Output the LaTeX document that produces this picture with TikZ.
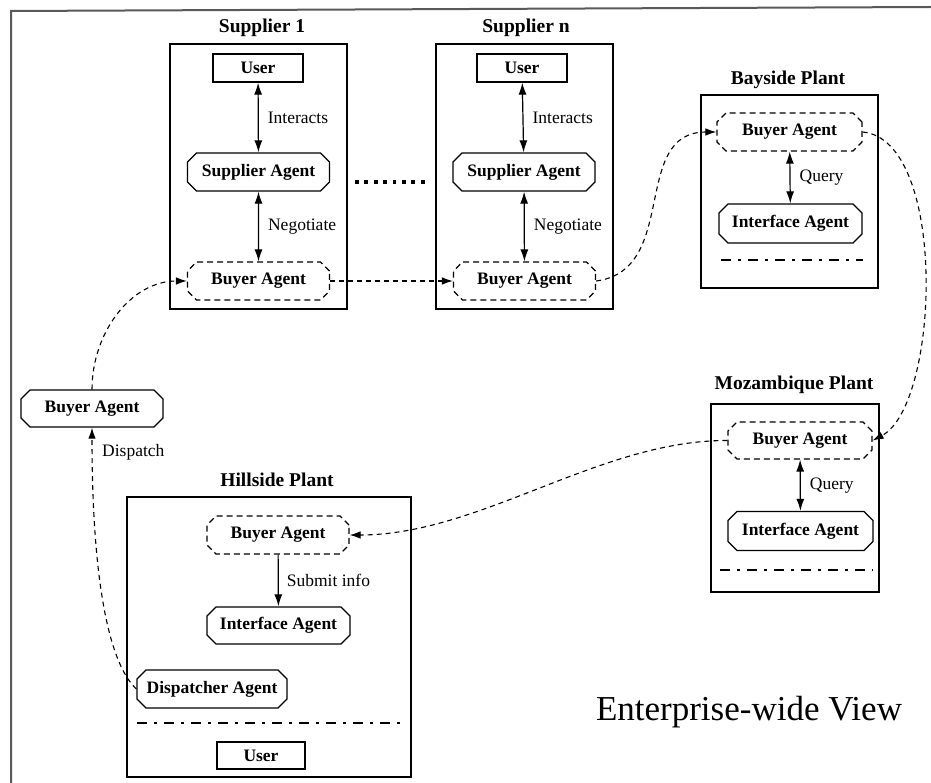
\documentclass[tikz,border=0pt]{standalone}
\usepackage{fontspec}
\setmainfont{Liberation Serif}
\usetikzlibrary{shapes.misc, arrows.meta}

\begin{document}
\begin{tikzpicture}[x=1pt, y=-1pt,
  agent/.style={chamfered rectangle, chamfered rectangle xsep=4pt, chamfered rectangle ysep=5pt,
    draw, line width=1.3pt, minimum width=142pt, minimum height=38pt, inner sep=1pt,
    font=\fontsize{17.5}{20}\selectfont\bfseries},
  buyer/.style={agent, line width=1.2pt, dash pattern=on 6pt off 4pt},
  userbox/.style={draw, rectangle, line width=1.3pt, minimum width=90pt, minimum height=28pt,
    inner sep=1pt, font=\fontsize{17.5}{20}\selectfont\bfseries},
  lbl/.style={anchor=west, inner sep=0pt, font=\fontsize{17.5}{20}\selectfont},
  title/.style={inner sep=0pt, font=\fontsize{19.5}{22}\selectfont\bfseries},
  frame/.style={line width=1.2pt},
  sep/.style={line width=1.8pt, dash pattern=on 10pt off 7pt on 3pt off 7pt},
  both/.style={{Latex[length=12pt,width=8pt]}-{Latex[length=12pt,width=8pt]}, line width=1.2pt},
  flow/.style={-{Latex[length=11pt,width=7.5pt]}, line width=1.1pt, dash pattern=on 5pt off 4pt}
]
\useasboundingbox (0,0) rectangle (931,783);

% outer frame
\draw[line width=2pt, gray!70!black] (11,783) -- (11,11) -- (931,7);

% Supplier 1
\node[title] (t1) at (262,28) {Supplier 1};
\draw[frame] (170,44) rectangle (347,309);
\node[userbox] (u1) at (258,68) {User};
\node[agent] (sa1) at (258.5,172) {Supplier Agent};
\node[buyer] (ba1) at (258.5,281) {Buyer Agent};
\draw[both] (u1) -- (sa1) node[lbl, pos=0.5, xshift=9pt] (i1) {Interacts};
\draw[both] (sa1) -- (ba1) node[lbl, pos=0.5, xshift=9pt] (n1) {Negotiate};

% dots between suppliers
\foreach \k in {0,...,7}
  \fill (355+\k*9.4,180) rectangle ++(3.8,3.8);

% Supplier n
\node[title] (tn) at (526,28) {Supplier n};
\draw[frame] (436,44) rectangle (613,309);
\node[userbox] (un) at (522,68) {User};
\node[agent] (san) at (524,172) {Supplier Agent};
\node[buyer] (ban) at (524.5,281) {Buyer Agent};
\draw[both] (un) -- (san) node[lbl, pos=0.5, xshift=9pt] (in) {Interacts};
\draw[both] (san) -- (ban) node[lbl, pos=0.5, xshift=9pt] (nn) {Negotiate};

% Bayside Plant
\node[title] (tb) at (788,80) {Bayside Plant};
\draw[frame] (701,95) rectangle (878,288);
\node[buyer, minimum width=145pt] (bb) at (789.5,132) {Buyer Agent};
\node[agent, minimum width=143pt, minimum height=39pt] (bi) at (790.5,223.5) {Interface Agent};
\draw[both] (bb) -- (bi) node[lbl, pos=0.5, xshift=9pt] (qb) {Query};
\draw[sep] (721,260) -- (863,260);

% Mozambique Plant
\node[title] (tm) at (794,385) {Mozambique Plant};
\draw[frame] (711,404) rectangle (879,592);
\node[buyer, minimum width=144pt, minimum height=37pt] (mb) at (800,440.5) {Buyer Agent};
\node[agent, minimum width=145pt, minimum height=39pt] (mi) at (800.5,531) {Interface Agent};
\draw[both] (mb) -- (mi) node[lbl, pos=0.5, xshift=9pt] (qm) {Query};
\draw[sep] (720,570) -- (873,570);

% Hillside Plant
\node[title] (th) at (277,480) {Hillside Plant};
\draw[frame] (127,497) rectangle (411,777);
\node[buyer] (hb) at (278,535) {Buyer Agent};
\node[agent, minimum width=143pt, minimum height=37pt] (hi) at (278.5,625.5) {Interface Agent};
\draw[-{Latex[length=12pt,width=8pt]}, line width=1.2pt] (hb) -- (hi)
  node[lbl, pos=0.5, xshift=8pt] (si) {Submit info};
\node[agent, minimum width=150pt] (disp) at (212,689) {Dispatcher Agent};
\draw[sep] (137,723) -- (402,723);
\node[userbox, minimum width=88pt, minimum height=27pt] (uh) at (261,755.5) {User};

% lone buyer agent on the left
\node[agent, minimum height=37pt] (lb) at (92,408.5) {Buyer Agent};
\node[lbl] (dl) at (102,452) {Dispatch};

% dashed message flow
\draw[flow] (disp.west) .. controls (95,650) and (92,500) .. (lb.south);
\draw[flow] (lb.north) to[out=90, in=180] (ba1.west);
\draw[flow] (ba1.east) -- (ban.west);
\draw[flow] (ban.east) .. controls (680,270) and (630,132) .. (bb.west);
\draw[flow] (bb.east) .. controls (948,140) and (940,405) .. (mb.east);
\draw[flow] (mb.west) .. controls (600,440) and (480,535) .. (hb.east);

\node[font=\fontsize{35}{40}\selectfont] (ev) at (749,712) {Enterprise-wide View};
\end{tikzpicture}
\end{document}
